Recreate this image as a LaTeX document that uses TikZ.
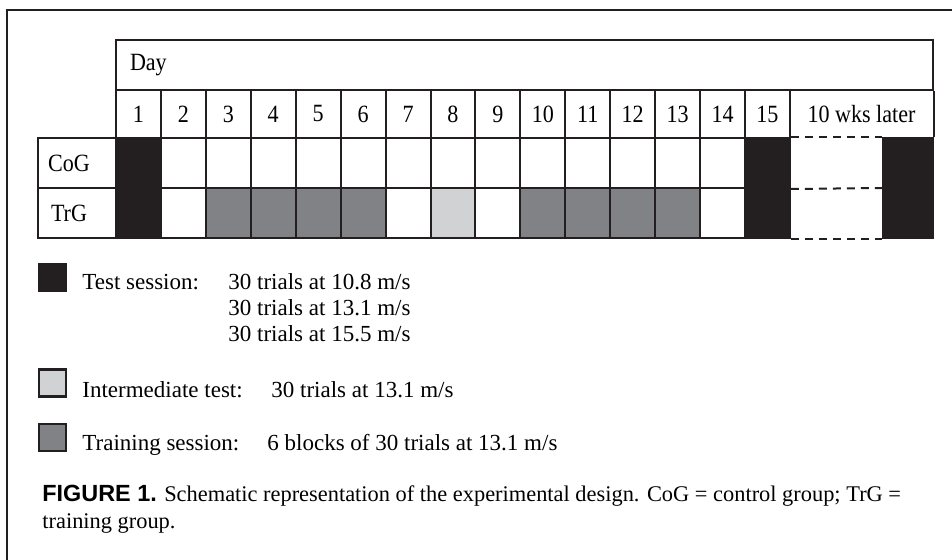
\documentclass[tikz,border=0pt]{standalone}
\usepackage{fontspec}
\setmainfont{Liberation Serif}
\newfontfamily\capfont{Liberation Sans}
\newfontfamily\tabfamily[FakeStretch=0.89]{Liberation Serif}
\usetikzlibrary{positioning}

\definecolor{testcol}{RGB}{35,31,32}
\definecolor{intercol}{RGB}{209,210,212}
\definecolor{traincol}{RGB}{128,130,133}
\newcommand\tabtext{\tabfamily\fontsize{12.4}{14}\selectfont}
\newcommand\keytext{\fontsize{11.5}{13}\selectfont}
\newcommand\captext{\fontsize{11.2}{13}\selectfont}

\tikzset{
  frame/.style={draw=testcol, line width=1pt},
  cell/.style={draw=testcol, line width=1pt, inner sep=0pt,
    minimum width=22.465pt, minimum height=25pt, font=\tabtext},
  numcell/.style={cell, minimum height=24pt},
  gap/.style={draw=testcol, line width=1pt, dash pattern=on 4pt off 3pt},
  key/.style={draw=testcol, line width=1.2pt, minimum size=13.4pt, inner sep=0pt},
  lbl/.style={anchor=base west, inner sep=0pt, font=\keytext}
}

\begin{document}
\begin{tikzpicture}[x=0.5pt, y=-0.5pt]

    \useasboundingbox (0,0) rectangle (952,560);
    \draw[frame] (7,560) -- (7,10) -- (952,10);

    % Define nodes
    \node[cell, minimum width=408.5pt, text width=394.5pt, inner xsep=7pt,
          align=left] (day) at (524.5,65) {Day};
    \foreach \i in {1,...,15}
      \node[numcell] (n\i) at ({116+(\i-0.5)*44.93},114) {\i};
    \node[font=\tabtext] (nlater) at (861.5,114) {10 wks later};

    \node[cell, minimum width=39pt] (cog) at (77,163) {\hspace*{-8pt}CoG};
    \node[cell, minimum width=39pt] (trg) at (77,213) {\hspace*{-8pt}TrG};

    \foreach \i/\f in {1/testcol,2/white,3/white,4/white,5/white,6/white,7/white,
                       8/white,9/white,10/white,11/white,12/white,13/white,14/white,15/testcol}
      \node[cell, fill=\f] (cog\i) at ({116+(\i-0.5)*44.93},163) {};
    \foreach \i/\f in {1/testcol,2/white,3/traincol,4/traincol,5/traincol,6/traincol,7/white,
                       8/intercol,9/white,10/traincol,11/traincol,12/traincol,13/traincol,14/white,15/testcol}
      \node[cell, fill=\f] (trg\i) at ({116+(\i-0.5)*44.93},213) {};

    \node[cell, fill=testcol, minimum width=25pt, minimum height=50pt] (later) at (908,188) {};

    % Connect the nodes
    \draw[frame] (day.south east) -- (later.north east);
    \draw[gap] (cog15.north east) -- (later.north west);
    \draw[gap] (cog15.south east) -- (later.west);
    \draw[gap] (trg15.south east) -- (later.south west);

    % Legend
    \node[key, fill=testcol]  (ktest)  at (52.5,277.5) {};
    \node[key, fill=intercol] (kinter) at (52.5,383) {};
    \node[key, fill=traincol] (ktrain) at (52.5,437.5) {};

    \node[lbl] (ltest)  at (82,290) {Test session:};
    \node[lbl] (vtest1) at (228,290) {30 trials at 10.8 m/s};
    \node[lbl] (vtest2) at (228,316) {30 trials at 13.1 m/s};
    \node[lbl] (vtest3) at (228,342) {30 trials at 15.5 m/s};
    \node[lbl] (linter) at (82,398) {Intermediate test:};
    \node[lbl] (vinter) at (271,398) {30 trials at 13.1 m/s};
    \node[lbl] (ltrain) at (82,451) {Training session:};
    \node[lbl] (vtrain) at (267,451) {6 blocks of 30 trials at 13.1 m/s};

    % Caption
    \node[lbl, font=\captext] (cap1) at (42,502) {{\capfont\bfseries\fontsize{11.7}{13}\selectfont FIGURE 1.} Schematic representation of the experimental design. CoG = control group; TrG =};
    \node[lbl, font=\captext] (cap2) at (42,528) {training group.};

  \end{tikzpicture}
\end{document}
